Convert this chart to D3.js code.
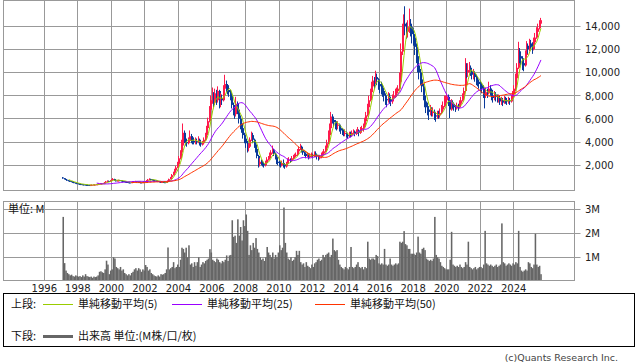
<!DOCTYPE html>
<html>
<head>
<meta charset="utf-8">
<script src="https://cdn.jsdelivr.net/npm/d3@7"></script>
<style>
  body { margin: 0; background: #fff; }
  svg { display: block; font-family: Verdana, "DejaVu Sans", sans-serif; }
</style>
</head>
<body>
<svg id="chart" width="638" height="362"></svg>
<script>
// monthly candles, first month = Feb 1997
const FIRST_YEAR = 1997, FIRST_MONTH = 1; // 0-based month index

const closes = [
  880, 820, 760, 700, 660, 620, 580, 540, 500, 460, 430,                   // 1997 (Feb-)
  400, 380, 360, 350, 330, 320, 310, 300, 290, 300, 320, 330,              // 1998
  340, 360, 380, 400, 420, 440, 460, 520, 600, 650, 620, 680,              // 1999
  750, 820, 700, 650, 680, 720, 700, 650, 620, 600, 560, 540,              // 2000
  520, 500, 540, 560, 600, 620, 580, 560, 520, 500, 540, 560,              // 2001
  600, 680, 760, 820, 780, 720, 700, 680, 640, 600, 580, 560,              // 2002
  560, 540, 520, 560, 650, 800, 950, 1150, 1350, 1550, 1800, 2100,         // 2003
  2600, 3100, 3700, 4800, 4300, 4000, 3900, 4100, 4500, 4200, 4100, 4000,  // 2004
  4100, 4000, 4200, 3900, 3800, 3900, 4200, 4600, 5200, 5800, 6800, 7600,  // 2005
  8000, 7400, 8200, 7600, 8400, 7200, 7800, 7600, 8600, 9000, 8700, 8500,  // 2006
  8300, 8000, 7200, 6800, 6400, 7300, 6800, 6000, 5600, 5200, 4600, 4300,  // 2007
  3900, 3500, 3600, 4200, 4600, 4200, 3800, 3400, 2800, 2100, 2300, 2200,  // 2008
  2100, 2000, 2200, 2500, 2600, 2900, 3100, 3300, 3000, 2700, 2300, 2200,  // 2009
  2100, 2000, 2200, 2100, 1900, 2100, 2400, 2500, 2400, 2600, 2700, 2800,  // 2010
  2900, 3200, 3400, 3600, 3300, 3100, 3000, 2800, 2900, 2700, 2800, 2900,  // 2011
  2800, 3000, 2900, 2800, 2600, 2700, 2900, 3000, 3200, 3500, 3900, 4600,  // 2012
  5200, 6200, 5900, 5700, 5500, 5400, 5500, 5200, 5000, 4900, 4700, 4800,  // 2013
  4600, 4500, 4700, 4600, 4800, 4900, 4700, 4900, 5000, 4800, 5100, 5200,  // 2014
  5300, 5800, 6300, 7000, 7600, 8300, 8800, 9300, 9200, 9600, 9400, 9000,  // 2015
  8800, 8700, 8400, 8000, 7700, 7600, 7900, 7700, 7500, 7800, 8000, 8200,  // 2016
  8400, 8600, 9200, 11800, 13500, 14200, 14000, 13500, 13900, 14200, 13900, 13300, // 2017
  13000, 12200, 11400, 10600, 10000, 9400, 8800, 8000, 7500, 7000, 6800, 6600,     // 2018
  6800, 6500, 6600, 6300, 6200, 6400, 6300, 6500, 6800, 7100, 7500, 7600,  // 2019
  7900, 7600, 6800, 7400, 7300, 7000, 6900, 7100, 7000, 7300, 7600, 7900,  // 2020
  8400, 10500, 10000, 10200, 10400, 10100, 9800, 9900, 9600, 9300, 9200, 9000,     // 2021
  8900, 8600, 8400, 8000, 8300, 8200, 8600, 8500, 8000, 7800, 8100, 7900,  // 2022
  7700, 7800, 7500, 7600, 7400, 7700, 7600, 7500, 7600, 7500, 7800, 8100,  // 2023
  8600, 9500, 10400, 11800, 11400, 11200, 10800, 10600, 11500, 12300, 12000, 12500, // 2024
  12200, 12000, 12600, 13000, 13500, 13800, 14200, 14500                  // 2025 (-Aug)
];

const highs = [
  980, 900, 840, 780, 720, 680, 640, 600, 560, 520, 480,
  450, 420, 400, 380, 370, 350, 340, 330, 320, 330, 350, 360,
  360, 380, 400, 430, 450, 470, 490, 560, 650, 700, 680, 720,
  800, 900, 840, 720, 720, 760, 740, 710, 670, 640, 620, 580,
  560, 540, 570, 600, 640, 660, 630, 600, 570, 540, 570, 600,
  640, 720, 820, 880, 840, 800, 740, 720, 700, 650, 620, 600,
  590, 580, 560, 600, 700, 850, 1000, 1250, 1450, 1700, 1950, 2300,
  2800, 3300, 4200, 5600, 5000, 4500, 4200, 4400, 5000, 4700, 4500, 4400,
  4400, 4300, 4500, 4300, 4100, 4100, 4400, 4800, 5400, 6100, 7100, 8000,
  8700, 8300, 8600, 8500, 8800, 8500, 8200, 8100, 8900, 9800, 9300, 9000,
  8900, 8500, 8200, 7400, 7000, 7900, 7500, 7000, 6300, 5900, 5400, 4800,
  4400, 4100, 3900, 4400, 4900, 4800, 4300, 3900, 3500, 2900, 2600, 2500,
  2400, 2300, 2400, 2700, 2800, 3100, 3300, 3700, 3400, 3100, 2800, 2500,
  2400, 2300, 2400, 2500, 2200, 2300, 2600, 2700, 2600, 2800, 2900, 3000,
  3100, 3400, 3600, 3850, 3700, 3400, 3200, 3100, 3100, 3000, 3000, 3100,
  3000, 3200, 3200, 3000, 2900, 2900, 3100, 3200, 3400, 3700, 4200, 5000,
  5600, 6600, 6400, 6100, 5900, 5800, 5800, 5600, 5400, 5200, 5100, 5100,
  4900, 4800, 4900, 4900, 5000, 5100, 5000, 5100, 5300, 5100, 5300, 5400,
  5600, 6100, 6600, 7300, 8000, 8600, 9200, 9700, 9600, 10150, 9900, 9500,
  9300, 9200, 9000, 8600, 8200, 8000, 8300, 8200, 7900, 8100, 8400, 8600,
  8700, 8900, 10000, 12500, 14200, 15000, 15700, 14300, 14500, 15500, 14600, 14100,
  13800, 13300, 12500, 11700, 10900, 10300, 9600, 9000, 8300, 7800, 7400, 7100,
  7200, 7000, 7000, 6800, 6600, 6700, 6700, 6900, 7200, 7500, 8000, 8000,
  8200, 8100, 7700, 7700, 7600, 7400, 7200, 7400, 7300, 7600, 7900, 8200,
  8700, 11230, 10800, 10800, 10900, 10600, 10300, 10300, 10100, 9800, 9600, 9400,
  9300, 9100, 8900, 8600, 8700, 8600, 9200, 8900, 8600, 8200, 8400, 8300,
  8100, 8100, 8000, 7900, 7800, 8000, 7900, 7800, 7900, 7800, 8100, 8400,
  8900, 9900, 10800, 12640, 12100, 11800, 11400, 11200, 11900, 12700, 12500, 12900,
  12800, 12600, 13000, 13400, 13900, 14200, 14500, 14700
];

const lows = [
  850, 790, 730, 680, 640, 600, 560, 520, 480, 440, 410,
  380, 360, 340, 320, 310, 300, 290, 280, 270, 280, 290, 310,
  310, 330, 350, 370, 390, 410, 430, 450, 510, 580, 580, 600,
  660, 730, 680, 620, 630, 660, 660, 620, 590, 570, 530, 500,
  490, 470, 490, 520, 550, 580, 560, 530, 490, 470, 490, 520,
  550, 590, 670, 740, 740, 700, 670, 650, 620, 580, 560, 540,
  530, 510, 490, 510, 550, 640, 780, 920, 1120, 1300, 1500, 1750,
  2000, 2500, 3000, 3600, 3900, 3700, 3600, 3800, 4000, 3900, 3800, 3800,
  3800, 3800, 3900, 3700, 3600, 3700, 3800, 4100, 4500, 5100, 5700, 6600,
  7300, 7000, 7200, 7200, 7400, 6900, 7000, 7200, 7500, 8300, 8300, 8100,
  7900, 7600, 6900, 6300, 6000, 6200, 6400, 5600, 5100, 4800, 4300, 3900,
  3500, 3100, 3200, 3500, 4100, 3900, 3500, 3100, 2600, 1800, 1900, 2000,
  1900, 1800, 1900, 2100, 2400, 2500, 2800, 3000, 2800, 2500, 2100, 2000,
  1900, 1800, 1900, 1800, 1700, 1800, 2000, 2300, 2200, 2300, 2500, 2600,
  2700, 2800, 3000, 3300, 3100, 2900, 2800, 2600, 2700, 2500, 2600, 2700,
  2600, 2700, 2700, 2500, 2400, 2500, 2600, 2800, 2900, 3100, 3400, 3800,
  4500, 5100, 5600, 5300, 5100, 5000, 5100, 4900, 4700, 4600, 4500, 4500,
  4400, 4300, 4400, 4400, 4500, 4700, 4500, 4600, 4800, 4500, 4700, 4900,
  4900, 5200, 5700, 6200, 6900, 7500, 8200, 8600, 8600, 9000, 8900, 8500,
  8200, 8100, 7900, 7500, 7200, 7000, 7400, 7300, 7100, 7300, 7600, 7800,
  8000, 8200, 8500, 9000, 11500, 13000, 13200, 12900, 13000, 13400, 13100, 12500,
  12300, 11500, 10800, 10000, 9400, 8900, 8300, 7600, 7000, 6500, 6300, 5900,
  6300, 6200, 6200, 5900, 5750, 6000, 6000, 6100, 6400, 6700, 7000, 7200,
  7400, 7100, 6070, 6700, 6900, 6700, 6600, 6800, 6700, 6900, 7200, 7500,
  7800, 8300, 9500, 9600, 9900, 9700, 9400, 9400, 9200, 8900, 8800, 8600,
  8400, 8200, 7800, 6900, 7800, 7800, 8100, 8000, 7600, 7400, 7600, 7500,
  7400, 7400, 7200, 7200, 7100, 7300, 7300, 7200, 7300, 7200, 7400, 7700,
  8000, 8400, 9300, 10300, 10800, 10600, 10200, 10100, 10500, 11400, 11600, 11800,
  11900, 11600, 11900, 12400, 12900, 13300, 13700, 14100
];

const FIRST_OPEN = 950;

// volume, millions
const volumes = [
  2.68, 0.76, 0.45, 0.35, 0.3, 0.25, 0.28, 0.22, 0.2, 0.25, 0.22,
  0.2, 0.22, 0.18, 0.25, 0.2, 0.3, 0.22, 0.2, 0.18, 0.2, 0.15, 0.2,
  0.18, 0.2, 0.25, 0.4, 0.42, 0.38, 0.35, 0.5, 0.86, 0.7, 0.3, 0.45,
  0.5, 1.0, 0.95, 0.6, 0.55, 0.5, 0.6, 0.45, 0.5, 0.35, 0.3, 0.25,
  0.3, 0.25, 0.35, 0.4, 0.5, 0.55, 0.45, 0.55, 0.5, 0.4, 0.5, 0.45,
  0.68, 0.6, 0.45, 0.5, 0.35, 0.3, 0.25, 0.22, 0.2, 0.25, 0.2, 0.3,
  0.28, 0.3, 0.35, 0.5, 1.41, 0.5, 0.55, 0.6, 0.8, 0.55, 0.6, 0.7,
  0.6, 0.9, 1.4, 1.35, 1.2, 1.4, 1.0, 1.5, 0.7, 0.75, 0.6, 0.8,
  0.65, 0.8, 1.0, 0.6, 0.7, 0.8, 0.75, 0.85, 0.9, 0.95, 1.34, 1.2,
  0.9, 0.85, 0.8, 0.95, 0.9, 0.8, 0.75, 0.85, 0.8, 0.9, 1.08, 0.85,
  1.08, 1.1, 2.54, 1.85, 1.9, 1.6, 2.58, 1.9, 2.26, 1.7, 2.54, 2.3,
  2.78, 2.1, 1.1, 1.5, 1.3, 1.6, 1.4, 1.8, 1.35, 1.2, 1.0, 0.9,
  0.95, 0.85, 1.0, 1.43, 1.2, 1.1, 1.0, 1.2, 0.95, 1.1, 1.0, 1.2,
  1.5, 1.3, 1.4, 3.07, 1.6, 1.2, 0.95, 0.9, 1.0, 0.85, 0.9, 1.0,
  1.27, 1.1, 1.27, 0.8, 0.7, 0.75, 0.6, 0.8, 0.65, 0.6, 0.55, 0.7,
  0.6, 0.75, 0.8, 0.9, 0.95, 0.85, 0.9, 1.1, 1.0, 1.1, 1.15, 1.2,
  1.0, 1.1, 1.78, 1.3, 1.25, 1.3, 0.9, 0.7, 0.6, 0.55, 0.5, 0.6,
  0.55, 0.5, 0.6, 1.43, 0.6, 0.55, 0.6, 0.7, 0.8, 0.6, 0.55, 0.6,
  0.5, 0.6, 0.55, 1.65, 0.95, 0.9, 0.95, 0.95, 0.9, 1.1, 1.05, 0.75,
  0.7, 0.75, 0.7, 1.35, 0.7, 0.65, 0.7, 0.95, 0.7, 0.65, 0.7, 0.75,
  0.7, 0.75, 1.65, 1.6, 1.65, 2.09, 1.55, 1.5, 1.35, 1.35, 1.15, 1.15,
  1.15, 1.1, 1.2, 1.86, 1.2, 1.15, 1.35, 1.4, 1.3, 0.95, 0.9, 0.85,
  0.9, 0.85, 0.95, 2.68, 1.1, 1.0, 0.95, 0.8, 0.65, 0.6, 0.55, 0.5,
  0.5, 0.5, 0.9, 2.06, 0.7, 0.65, 0.6, 0.65, 0.6, 0.7, 0.6, 0.55,
  0.6, 0.8, 0.7, 1.65, 0.6, 0.55, 0.5, 0.55, 0.6, 0.5, 0.55, 0.6,
  0.6, 0.55, 0.7, 2.1, 0.75, 0.7, 0.65, 0.7, 0.65, 0.6, 0.65, 0.7,
  0.6, 0.65, 0.7, 2.41, 0.8, 0.75, 0.65, 0.7, 0.75, 0.7, 0.65, 0.75,
  0.7, 0.8, 0.75, 2.1, 0.6, 0.45, 0.4, 0.45, 0.5, 0.45, 0.8, 0.75,
  0.6, 0.55, 0.7, 1.98, 0.7, 0.6, 0.65, 0.3
];

const priceTicks = [2000, 4000, 6000, 8000, 10000, 12000, 14000];
const volTicks = [1, 2, 3];
const yearTicks = d3.range(1996, 2025, 2);
const maPeriods = [5, 25, 50];
const maColors = ['#99cc00', '#9900ff', '#ff3300'];

const svg = d3.select('#chart');

const plot = {left: 3.5, right: 574.5, top: 0.5, bottom: 190.5};
const vplot = {left: 3.5, right: 574.5, top: 201.5, bottom: 280.5};

// decimal year of month i
const monthT = i => FIRST_YEAR + (FIRST_MONTH + i + 0.5) / 12;

const xScale = d3.scaleLinear().domain([1996, 2024]).range([44.3, 513.7]);
const yScale = d3.scaleLinear().domain([0, 14000]).range([188.5, 26]);
const vScale = d3.scaleLinear().domain([0, 3]).range([281.4, 209.2]);

const gridColor = '#999';
const crisp = v => Math.floor(v) + 0.5;

// frames + grid
[plot, vplot].forEach(p => {
  const g = svg.append('g');
  g.selectAll('line.v')
    .data(yearTicks)
    .enter().append('line')
    .attr('x1', d => crisp(xScale(d))).attr('x2', d => crisp(xScale(d)))
    .attr('y1', p.top).attr('y2', p.bottom)
    .attr('stroke', gridColor);
  g.append('rect')
    .attr('x', p.left).attr('y', p.top)
    .attr('width', p.right - p.left).attr('height', p.bottom - p.top)
    .attr('fill', 'none').attr('stroke', gridColor);
});

// price horizontal grid + right labels
const pg = svg.append('g');
pg.selectAll('line')
  .data(priceTicks)
  .enter().append('line')
  .attr('x1', plot.left).attr('x2', plot.right + 6)
  .attr('y1', d => crisp(yScale(d))).attr('y2', d => crisp(yScale(d)))
  .attr('stroke', gridColor);
pg.selectAll('text')
  .data(priceTicks)
  .enter().append('text')
  .attr('x', 585).attr('y', d => yScale(d) + 4)
  .attr('font-size', 10).attr('fill', '#222')
  .text(d3.format(','));

const vg = svg.append('g');
vg.selectAll('line')
  .data(volTicks)
  .enter().append('line')
  .attr('x1', vplot.left).attr('x2', vplot.right + 6)
  .attr('y1', d => crisp(vScale(d))).attr('y2', d => crisp(vScale(d)))
  .attr('stroke', gridColor);
vg.selectAll('text')
  .data(volTicks)
  .enter().append('text')
  .attr('x', 585).attr('y', d => vScale(d) + 4)
  .attr('font-size', 10).attr('fill', '#222')
  .text(d => d + 'M');

// year labels
svg.append('g').selectAll('text')
  .data(yearTicks)
  .enter().append('text')
  .attr('x', d => xScale(d)).attr('y', 291.5)
  .attr('text-anchor', 'middle')
  .attr('font-size', 10).attr('fill', '#222')
  .text(d => d);

svg.append('text')
  .attr('x', 8).attr('y', 213)
  .attr('font-family', '"Noto Sans CJK JP", sans-serif')
  .attr('font-size', 11).attr('fill', '#111')
  .text('単位: M');

// volume bars, one per month
const step = (xScale(1997) - xScale(1996)) / 12;
svg.append('g').selectAll('rect')
  .data(volumes)
  .enter().append('rect')
  .attr('x', (_, i) => xScale(monthT(i)) - step / 2)
  .attr('width', step + 0.15)
  .attr('y', d => vScale(d))
  .attr('height', d => vplot.bottom - 0.5 - vScale(d))
  .attr('fill', '#666');

// candles
const candles = closes.map((c, i) => ({
  t: monthT(i),
  open: i === 0 ? FIRST_OPEN : closes[i - 1],
  close: c, high: highs[i], low: lows[i]
}));
const cg = svg.append('g');
candles.forEach(d => {
  const cx = Math.round(xScale(d.t));
  const col = d.close >= d.open ? '#ff1a4d' : '#0a3a9a';
  cg.append('line')
    .attr('x1', cx - 0.5).attr('x2', cx - 0.5)
    .attr('y1', yScale(d.high)).attr('y2', yScale(d.low))
    .attr('stroke', col);
  const y0 = yScale(Math.max(d.open, d.close));
  const y1 = yScale(Math.min(d.open, d.close));
  cg.append('rect')
    .attr('x', cx - 1).attr('width', 2)
    .attr('y', y0).attr('height', Math.max(1, y1 - y0))
    .attr('fill', col);
});

// moving averages
maPeriods.forEach((n, k) => {
  const ma = closes.map((_, i) => i < n - 1 ? null : d3.mean(closes.slice(i - n + 1, i + 1)));
  const line = d3.line()
    .defined(d => d !== null)
    .x((_, i) => xScale(monthT(i)))
    .y(d => yScale(d));
  svg.append('path')
    .datum(ma)
    .attr('d', line)
    .attr('fill', 'none')
    .attr('stroke', maColors[k])
    .attr('stroke-width', 1);
});

// legend
const lg = svg.append('g').attr('font-family', '"Noto Sans CJK JP", sans-serif')
  .attr('font-size', 11).attr('fill', '#111');
lg.append('rect')
  .attr('x', 3.5).attr('y', 293.5).attr('width', 631).attr('height', 53)
  .attr('fill', 'none').attr('stroke', '#000');
const legendRows = [
  {label: '上段:', y: 304, items: [
    {x1: 43, x2: 73, tx: 78, color: maColors[0], w: 1, text: '単純移動平均(5)'},
    {x1: 172, x2: 202, tx: 207, color: maColors[1], w: 1, text: '単純移動平均(25)'},
    {x1: 315, x2: 345, tx: 350, color: maColors[2], w: 1, text: '単純移動平均(50)'}
  ]},
  {label: '下段:', y: 336, items: [
    {x1: 43, x2: 73, tx: 78, color: '#666', w: 3, text: '出来高 単位:(M株/口/枚)'}
  ]}
];
legendRows.forEach(r => {
  lg.append('text').attr('x', 11).attr('y', r.y + 4).text(r.label);
  r.items.forEach(it => {
    lg.append('line')
      .attr('x1', it.x1).attr('x2', it.x2)
      .attr('y1', r.y + 0.5).attr('y2', r.y + 0.5)
      .attr('stroke', it.color).attr('stroke-width', it.w);
    lg.append('text').attr('x', it.tx).attr('y', r.y + 4).text(it.text);
  });
});

svg.append('text')
  .attr('x', 618).attr('y', 361)
  .attr('text-anchor', 'end')
  .attr('font-size', 9.5).attr('fill', '#444')
  .text('(c)Quants Research Inc.');
</script>
</body>
</html>
